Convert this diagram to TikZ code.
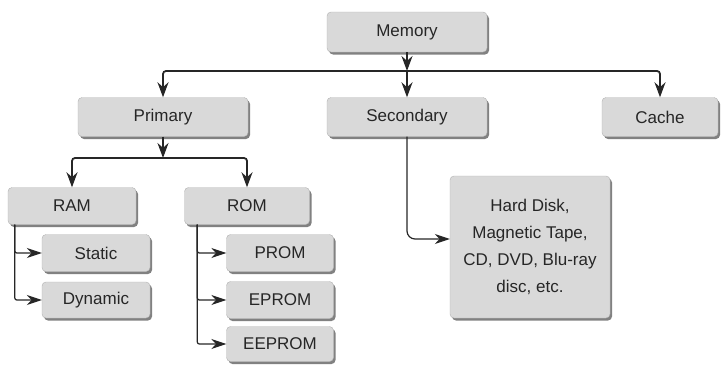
\documentclass[tikz,border=0pt]{standalone}
\usepackage{fontspec}
\setmainfont{Liberation Sans}
\usepackage{xcolor}
\colorlet{colorBox}{gray!30}
\colorlet{colorEdge}{gray!60}
\colorlet{colorLink}{black!85}
\usepackage{tikz}
\usetikzlibrary{arrows, arrows.meta, shadows, positioning}
\tikzset{memBox/.style={rectangle, rounded corners=4pt, fill=colorBox, draw=colorEdge, text=black!85,
  font=\fontsize{17}{20}\selectfont, inner sep=2pt,
  drop shadow={shadow xshift=2pt, shadow yshift=-2.5pt, fill=gray!90!black, opacity=0.9}},
  memLink/.style={-{Stealth[length=15pt, width=11pt]}, colorLink, line width=1.8pt},
  subLink/.style={-{Stealth[length=15pt, width=10pt]}, colorLink, line width=1.2pt}}

\begin{document}
\begin{tikzpicture}[x=1pt, y=-1pt]
\useasboundingbox (0,0) rectangle (722,364);
\node[memBox, minimum width=160, minimum height=40] (mem) at (407,32) {Memory};
\node[memBox, minimum width=170, minimum height=39] (prim) at (163,117) {Primary};
\node[memBox, minimum width=160, minimum height=39] (sec) at (407,117) {Secondary};
\node[memBox, minimum width=116, minimum height=39] (cache) at (660,117) {Cache};
\node[memBox, minimum width=128, minimum height=37] (ram) at (72,206) {RAM};
\node[memBox, minimum width=125, minimum height=37] (rom) at (247,206) {ROM};
\node[memBox, minimum width=108, minimum height=37] (static) at (96,253) {Static};
\node[memBox, minimum width=108, minimum height=36] (dyn) at (96,300) {Dynamic};
\node[memBox, minimum width=107, minimum height=37] (prom) at (280,253) {PROM};
\node[memBox, minimum width=107, minimum height=37] (eprom) at (280,300) {EPROM};
\node[memBox, minimum width=107, minimum height=35] (eeprom) at (280,344) {EEPROM};
\node[memBox, minimum width=160, minimum height=142, align=center, font=\fontsize{17}{27}\selectfont] (hdd) at (530,247) {Hard Disk,\\Magnetic Tape,\\CD, DVD, Blu-ray\\disc, etc.};
\coordinate (memBar) at (407,71);
\coordinate (primBar) at (163,158);
\draw [memLink] (mem) -- (memBar);
\draw [memLink, rounded corners=3pt] (memBar) -| (prim);
\draw [memLink, rounded corners=3pt] (memBar) -| (cache);
\draw [memLink] (memBar) -- (sec);
\draw [memLink] (prim) -- (primBar);
\draw [memLink, rounded corners=3pt] (primBar) -| (ram);
\draw [memLink, rounded corners=3pt] (primBar) -| (rom);
\draw [subLink, rounded corners=2pt] ([xshift=7]ram.south west) |- (static);
\draw [subLink, rounded corners=2pt] ([xshift=7]ram.south west) |- (dyn);
\draw [subLink, rounded corners=2pt] ([xshift=13]rom.south west) |- (prom);
\draw [subLink, rounded corners=2pt] ([xshift=13]rom.south west) |- (eprom);
\draw [subLink, rounded corners=2pt] ([xshift=13]rom.south west) |- (eeprom);
\draw [subLink, rounded corners=8pt] (sec) |- ([yshift=8]hdd.west);
\end{tikzpicture}
\end{document}
